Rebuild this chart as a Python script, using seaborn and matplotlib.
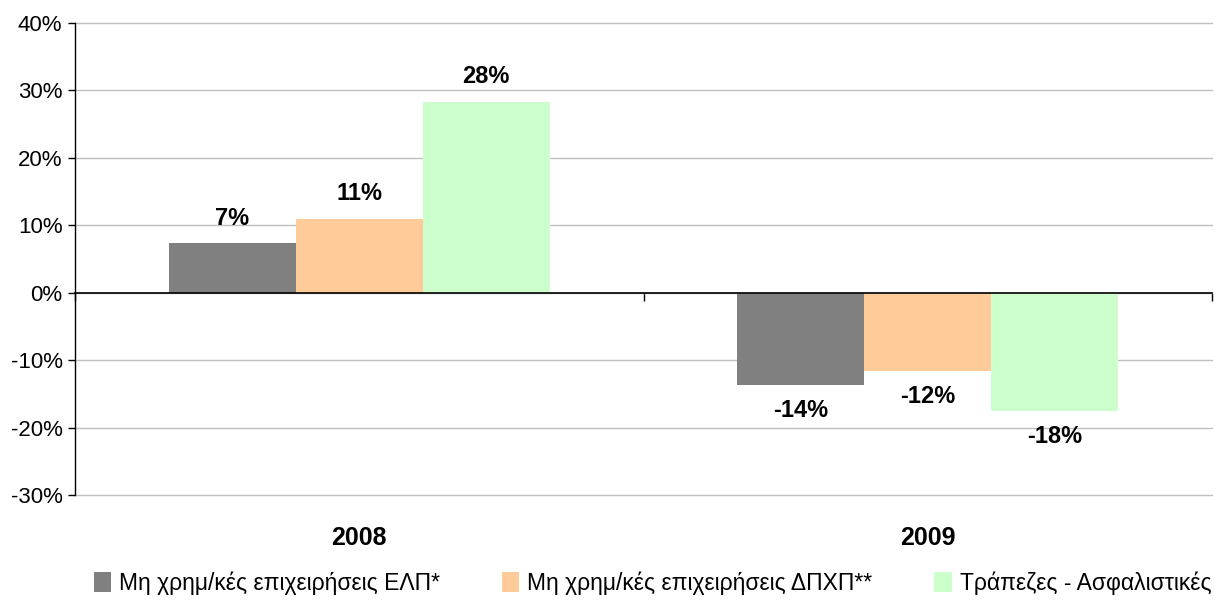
import matplotlib
matplotlib.use("Agg")
import matplotlib.pyplot as plt
from matplotlib.ticker import FuncFormatter, FixedLocator
import seaborn as sns
import pandas as pd

years = ["2008", "2009"]
series = ["Μη χρημ/κές επιχειρήσεις ΕΛΠ*",
          "Μη χρημ/κές επιχειρήσεις ΔΠΧΠ**",
          "Τράπεζες - Ασφαλιστικές"]
elp = [7.3, -13.7]
dpxp = [10.9, -11.6]
banks = [28.3, -17.6]
colors = ["#808080", "#FFCC99", "#CCFFCC"]

rows = []
for name, vals in zip(series, [elp, dpxp, banks]):
    for y, v in zip(years, vals):
        rows.append({"year": y, "series": name, "value": v})
df = pd.DataFrame(rows)

sns.set_style("white")
plt.rcParams['font.family'] = ['Liberation Sans', 'DejaVu Sans']
plt.rcParams['text.color'] = 'black'

fig = plt.figure(figsize=(12.15, 6.02), dpi=100)
ax = fig.add_axes([75 / 1215, 1 - 495 / 602, 1137 / 1215, 472 / 602])

sns.barplot(data=df, x="year", y="value", hue="series", palette=colors,
            width=0.67, saturation=1, ax=ax, legend=True, errorbar=None,
            linewidth=0)

ax.set_xlim(-0.5, 1.5)
ax.set_ylim(-30, 40)
ax.set_yticks(range(-30, 41, 10))
ax.yaxis.set_major_formatter(FuncFormatter(lambda v, p: f"{v:.0f}%"))
ax.tick_params(axis="y", labelsize=16, length=5, width=1, color="black",
               left=True, pad=4, labelcolor="black")
ax.yaxis.grid(True, color="#c0c0c0", linewidth=1)
for gl in ax.yaxis.get_gridlines():
    gl.set_clip_on(False)
ax.set_axisbelow(True)
ax.set_xlabel("")
ax.set_ylabel("")

for side in ["top", "right"]:
    ax.spines[side].set_visible(False)
ax.spines["left"].set_color("black")
ax.spines["left"].set_linewidth(1)
ax.spines["bottom"].set_position(("data", 0))
ax.spines["bottom"].set_color("black")
ax.spines["bottom"].set_linewidth(1.2)

ax.xaxis.set_minor_locator(FixedLocator([-0.5, 0.5, 1.5]))
ax.tick_params(axis="x", which="minor", length=6, width=1, color="black",
               bottom=True, direction="out")
ax.tick_params(axis="x", which="major", length=0, labelsize=18, pad=168,
               labelcolor="black")
for lbl in ax.get_xticklabels():
    lbl.set_fontweight("bold")

for cont in ax.containers:
    ax.bar_label(cont, labels=[f"{v:.0f}%" for v in cont.datavalues],
                 padding=10, fontsize=17, fontweight="bold", color="black")

handles, labels = ax.get_legend_handles_labels()
ax.legend(handles, labels, loc="center", bbox_to_anchor=(0.508, -0.187),
          ncol=3, frameon=False, handlelength=0.75, handleheight=0.95,
          handletextpad=0.35, columnspacing=2.7, borderpad=0, borderaxespad=0,
          prop={"family": ["Liberation Sans", "DejaVu Sans"], "size": 16.5})

fig.savefig("out.png", dpi=100)
